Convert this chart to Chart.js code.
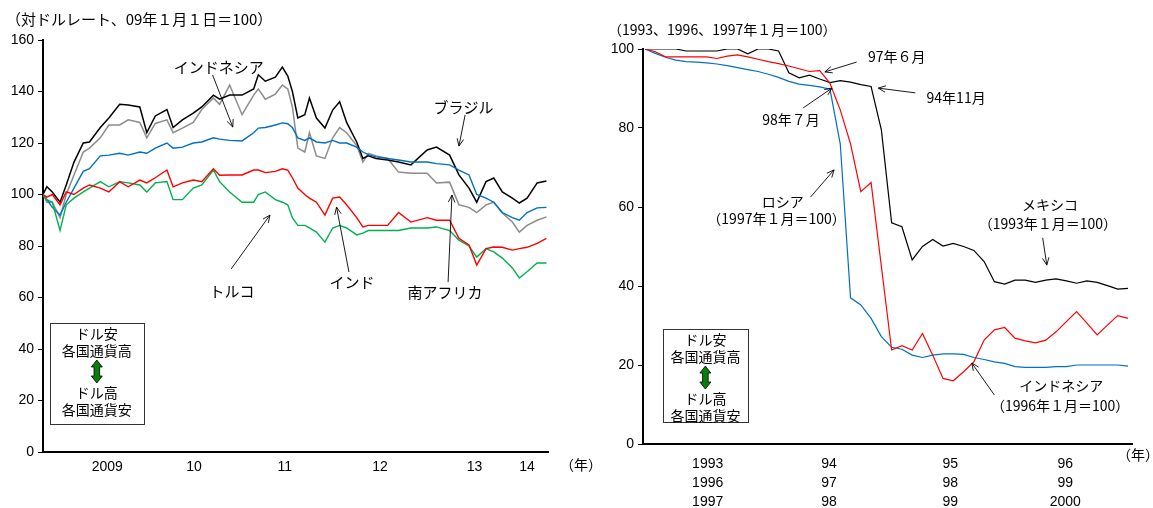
<!DOCTYPE html>
<html>
<head>
<meta charset="utf-8">
<script src="https://cdn.jsdelivr.net/npm/chart.js@4/dist/chart.umd.min.js"></script>
<style>
  body { margin: 0; background: #fff; width: 1153px; height: 508px; overflow: hidden; position: relative; }
  canvas { position: absolute; top: 0; }
  #left-chart { left: 0; }
  #right-chart { left: 600px; }
</style>
</head>
<body>
<canvas id="left-chart" width="600" height="508"></canvas>
<canvas id="right-chart" width="553" height="508"></canvas>
<script>
// --- Left panel: emerging currencies vs USD (2009-01-01 = 100), x = months since Jan 2009 --- //
const emMonths = [0, 0.5, 1.2, 2.2, 3, 4, 5.2, 6, 7.4, 8.5,
  9.9, 11, 12.5, 13.4, 14.5, 16, 16.8, 18, 19.4, 20.5,
  22, 22.8, 24.1, 25.7, 27.2, 27.8, 28.7, 30, 30.9, 31.6,
  32.2, 32.9, 33.8, 34.4, 35.3, 36.4, 37.4, 38.3, 39.2, 40.5,
  41.3, 42, 43, 44.5, 45.9, 47.5, 49.6, 50.8, 52.5, 53.7,
  55, 56, 57.2, 58.2, 59.3, 60.6, 61.5, 62.5, 63.8, 65];

const brazil = [100, 103, 101, 97, 103.7, 112.6, 120, 120.4, 126, 129.7,
  135, 134.8, 134, 124, 130.5, 133, 126, 129, 131.6, 134,
  138.6, 137, 138.6, 138.6, 141, 146.5, 144, 145.6, 149.5, 146,
  140, 129.7, 131, 137.5, 129.7, 125.8, 132.8, 136, 128, 120.4,
  114, 115, 114, 113.4, 112.6, 111.5, 117.3, 118.4, 115.3, 107.6,
  102.5, 97, 105, 106.4, 101, 98.6, 96.7, 98.6, 104.5, 105.2];

const southAfrica = [100, 97, 97, 91, 100, 107.6, 116.5, 118, 122, 127,
  127, 129, 128, 122, 127.6, 129, 124, 125.8, 128, 133,
  137.5, 135, 142.5, 131, 138.6, 141, 137, 139, 142.5, 141,
  134, 118, 116.5, 124, 115, 114, 122, 126, 124, 119,
  112.6, 116, 115, 114, 108.7, 108.3, 108.3, 104.5, 104.8, 96,
  95, 93, 96, 97, 92.8, 89.3, 85.4, 88, 90, 91.3];

const indonesia = [100, 98, 95, 92, 97, 102.5, 109, 110, 115, 115.3,
  116, 115.3, 116.5, 116, 118, 120, 118, 118.4, 120, 120.4,
  122, 121.5, 121, 120.8, 124, 125.8, 126, 127, 127.8, 127.5,
  126, 122, 121, 122, 120.4, 120, 121, 120, 120, 118.4,
  116.5, 115.5, 114.6, 114, 113.4, 112.6, 112.6, 112, 111.5, 109.5,
  107.6, 100, 98.6, 97, 93, 91, 90, 93, 94.8, 95];

const india = [100, 99, 100, 96, 101, 100, 102.5, 103.7, 102.5, 101,
  105, 103, 105.6, 104.5, 106.5, 109.5, 103, 104.5, 105.6, 105,
  110, 107.5, 107.6, 107.6, 109.5, 109.5, 108.5, 109, 110, 109.5,
  106.5, 102.5, 100, 98.6, 97, 92, 98.6, 99, 96, 91,
  87.4, 88, 88, 88, 93, 89.3, 91, 90, 90, 83,
  80.4, 72.6, 79, 79.6, 79.5, 78.4, 79, 79.5, 81, 83];

const turkey = [100, 98, 97, 86, 96, 98.6, 101, 102.5, 105, 103,
  105, 104.5, 103.7, 101, 104.5, 105, 98, 98, 102.5, 103.7,
  109.5, 105, 101, 97, 97, 100, 101, 98, 97, 96,
  91, 88, 88, 87, 85.4, 81.5, 87, 88, 87, 84.3,
  85, 86, 86, 86, 86, 87, 87, 87.4, 86, 82.3,
  80, 75.7, 79, 77.7, 75.3, 71.5, 67.6, 70, 73.4, 73.4];

const leftTickPos = [8.3, 19.5, 31.2, 43.5, 55.7, 62.5];
const leftTickLabels = ['2009', '10', '11', '12', '13', '14'];

// --- Right panel: past crises, monthly, 48 months from base month --- //
const mexico = [100, 100, 100, 100, 99.5, 99.5, 99.5, 99.5, 100, 100,
  98.8, 100, 100, 99.5, 94, 92.7, 93.4, 92.4, 91.5, 92,
  91.6, 91, 90.5, 79.5, 56, 55, 46.6, 50, 51.8, 50.1,
  50.8, 50, 49, 46.2, 41.1, 40.5, 41.5, 41.5, 40.9, 41.5,
  41.8, 41.3, 40.7, 41.3, 40.9, 40.1, 39.2, 39.4];

const indonesiaCrisis = [100, 99.3, 98, 98, 98, 98, 98, 97.6, 98.2, 98.5,
  98, 97.4, 96.8, 96.3, 95.7, 95, 94.3, 94.5, 91.3, 84.6,
  76, 63.9, 66.2, 45, 23.8, 24.9, 23.8, 28, 22.5, 16.6,
  16, 18.3, 20.8, 26.3, 28.9, 29.5, 26.8, 26.1, 25.6, 26.3,
  28.4, 31, 33.5, 30.6, 27.6, 30.1, 32.5, 31.8];

const russia = [100, 98.9, 97.9, 97.2, 96.8, 96.7, 96.5, 96.2, 95.8, 95.3,
  94.8, 94.3, 93.6, 92.8, 91.8, 91.1, 90.8, 90.4, 89.8, 76,
  37, 35.2, 31.8, 27.2, 24.5, 24, 22.5, 21.9, 22.5, 22.8,
  22.8, 22.7, 21.9, 21.4, 20.8, 20.4, 19.6, 19.4, 19.4, 19.4,
  19.6, 19.6, 20, 20, 20, 20, 20, 19.7];

const rightTickPos = [6.1, 17.9, 29.7, 40.9];
const rightTickLabels = [['1993', '1996', '1997'], ['94', '97', '98'], ['95', '98', '99'], ['96', '99', '2000']];

// --- Styles --- //
const NUM_FONT = '"Liberation Sans", "Noto Sans CJK JP", sans-serif';
const JP_FONT = '"Noto Sans CJK JP", "Liberation Sans", sans-serif';

function arrow(ctx, x1, y1, x2, y2) {
    ctx.beginPath();
    ctx.moveTo(x1, y1);
    ctx.lineTo(x2, y2);
    ctx.stroke();
    const a = Math.atan2(y2 - y1, x2 - x1), h = 8;
    ctx.beginPath();
    ctx.moveTo(x2 - h * Math.cos(a - 0.42), y2 - h * Math.sin(a - 0.42));
    ctx.lineTo(x2, y2);
    ctx.lineTo(x2 - h * Math.cos(a + 0.42), y2 - h * Math.sin(a + 0.42));
    ctx.stroke();
}

function doubleArrow(ctx, cx, top, bottom) {
    const hw = 5.5, sw = 2.8, hl = 7;
    ctx.beginPath();
    ctx.moveTo(cx, top);
    ctx.lineTo(cx + hw, top + hl);
    ctx.lineTo(cx + sw, top + hl);
    ctx.lineTo(cx + sw, bottom - hl);
    ctx.lineTo(cx + hw, bottom - hl);
    ctx.lineTo(cx, bottom);
    ctx.lineTo(cx - hw, bottom - hl);
    ctx.lineTo(cx - sw, bottom - hl);
    ctx.lineTo(cx - sw, top + hl);
    ctx.lineTo(cx - hw, top + hl);
    ctx.closePath();
    ctx.fillStyle = '#0b7d0b';
    ctx.fill();
    ctx.lineWidth = 0.8;
    ctx.strokeStyle = '#000';
    ctx.stroke();
}

// draws titles, notes, arrows and the legend box
function overlay(cfg) {
    return {
        id: 'overlay',
        afterDraw(chart) {
            const { ctx, scales: { x, y } } = chart;
            const px = v => x.getPixelForValue(v);
            const py = v => y.getPixelForValue(v);
            ctx.save();
            ctx.fillStyle = '#000';
            ctx.textBaseline = 'middle';

            ctx.font = cfg.titleFont;
            ctx.textAlign = 'left';
            ctx.fillText(cfg.title, cfg.titlePos[0], cfg.titlePos[1]);
            ctx.font = '14px ' + JP_FONT;
            ctx.textAlign = 'center';
            ctx.fillText('（年）', cfg.yearPos[0], cfg.yearPos[1]);

            ctx.font = cfg.noteFont;
            cfg.notes.forEach(n => {
                ctx.textAlign = n.align || 'center';
                ctx.fillText(n.text, px(n.x), py(n.y));
            });

            ctx.strokeStyle = '#000';
            ctx.lineWidth = 0.9;
            cfg.arrows.forEach(a => arrow(ctx, px(a[0][0]), py(a[0][1]), px(a[1][0]), py(a[1][1])));

            // legend box
            const b = cfg.box;
            const bx0 = px(b.x0), bx1 = px(b.x1), by0 = py(b.y0), by1 = py(b.y1);
            ctx.fillStyle = '#fff';
            ctx.fillRect(bx0, by0, bx1 - bx0, by1 - by0);
            ctx.lineWidth = 1;
            ctx.strokeStyle = '#333';
            ctx.strokeRect(Math.round(bx0) + 0.5, Math.round(by0) + 0.5, Math.round(bx1 - bx0), Math.round(by1 - by0));
            const cx = (bx0 + bx1) / 2;
            ctx.fillStyle = '#000';
            ctx.font = '14px ' + JP_FONT;
            ctx.textAlign = 'center';
            ctx.fillText('ドル安', cx, by0 + 11);
            ctx.fillText('各国通貨高', cx, by0 + 28);
            ctx.fillText('ドル高', cx, by0 + 70);
            ctx.fillText('各国通貨安', cx, by0 + 87);
            doubleArrow(ctx, cx, by0 + 37, by0 + 60);
            ctx.restore();
        }
    };
}

function baseScales(xMin, xMax, yMax, ticksPos, ticksLabels, xHeight, tickPad) {
    return {
        x: {
            type: 'linear',
            min: xMin,
            max: xMax,
            afterBuildTicks: s => { s.ticks = ticksPos.map(v => ({ value: v })); },
            afterFit: s => { s.height = xHeight; },
            ticks: {
                autoSkip: false,
                maxRotation: 0,
                padding: tickPad,
                color: '#000',
                font: { family: NUM_FONT, size: 14, lineHeight: 1.35 },
                callback: (v, i) => ticksLabels[i]
            },
            grid: { display: false },
            border: { color: '#000', width: 2 }
        },
        y: {
            min: 0,
            max: yMax,
            afterFit: s => { s.width = 43; },
            ticks: {
                stepSize: 20,
                padding: 4,
                color: '#000',
                font: { family: NUM_FONT, size: 14 }
            },
            grid: { drawOnChartArea: false, tickLength: 5, color: '#000', lineWidth: 1 },
            border: { color: '#000', width: 2 }
        }
    };
}

function lineSet(xs, ys, color, width) {
    return {
        data: ys.map((v, i) => ({ x: xs[i], y: v })),
        borderColor: color,
        borderWidth: width,
        pointRadius: 0,
        tension: 0,
        fill: false
    };
}

// --- Left chart --- //
new Chart(document.getElementById('left-chart'), {
    type: 'line',
    data: {
        datasets: [
            lineSet(emMonths, india, '#ff0000', 1.4),
            lineSet(emMonths, turkey, '#00b050', 1.4),
            lineSet(emMonths, indonesia, '#0070c0', 1.4),
            lineSet(emMonths, brazil, '#000000', 1.5),
            lineSet(emMonths, southAfrica, '#8c8c8c', 1.5)
        ]
    },
    options: {
        responsive: false,
        animation: false,
        layout: { padding: { top: 40, right: 52, bottom: 0, left: 0 } },
        scales: baseScales(0, 65.2, 160, leftTickPos, leftTickLabels, 56, -2),
        plugins: { legend: { display: false }, tooltip: { enabled: false } }
    },
    plugins: [overlay({
        title: '（対ドルレート、09年１月１日＝100）',
        titleFont: '15px ' + JP_FONT,
        titlePos: [6, 19],
        yearPos: [581, 465],
        noteFont: '15px ' + JP_FONT,
        notes: [
            { text: 'インドネシア', x: 22.7, y: 149.5 },
            { text: 'ブラジル', x: 54.3, y: 134 },
            { text: 'トルコ', x: 24.4, y: 62.5 },
            { text: 'インド', x: 39.9, y: 66 },
            { text: '南アフリカ', x: 51.9, y: 62.1 }
        ],
        arrows: [
            [[21.9, 146.4], [24.5, 126.2]],
            [[54.5, 130.9], [53.7, 118.8]],
            [[24.3, 71.1], [29.3, 92]],
            [[39.5, 69.9], [37.9, 95.1]],
            [[52.3, 66], [52.8, 99.8]]
        ],
        box: { x0: 0.9, y0: 50.1, x1: 13, y1: 10.9 }
    })]
});

// --- Right chart --- //
const monthIdx = mexico.map((v, i) => i);
new Chart(document.getElementById('right-chart'), {
    type: 'line',
    data: {
        datasets: [
            lineSet(monthIdx, indonesiaCrisis, '#ff0000', 1.2),
            lineSet(monthIdx, russia, '#0070c0', 1.2),
            lineSet(monthIdx, mexico, '#000000', 1.2)
        ]
    },
    options: {
        responsive: false,
        animation: false,
        layout: { padding: { top: 49, right: 21, bottom: 0, left: 0 } },
        scales: baseScales(-0.195, 47.39, 100, rightTickPos, rightTickLabels, 64, 3),
        plugins: { legend: { display: false }, tooltip: { enabled: false } }
    },
    plugins: [overlay({
        title: '（1993、1996、1997年１月＝100）',
        titleFont: '14px ' + JP_FONT,
        titlePos: [8, 30],
        yearPos: [538, 455],
        noteFont: '14px ' + JP_FONT,
        notes: [
            { text: '97年６月', x: 21.7, y: 98, align: 'left' },
            { text: '94年11月', x: 27.4, y: 87.8, align: 'left' },
            { text: '98年７月', x: 11.4, y: 82, align: 'left' },
            { text: 'ロシア', x: 13.4, y: 61.3 },
            { text: '（1997年１月＝100）', x: 12.8, y: 57 },
            { text: 'メキシコ', x: 39.4, y: 60.5 },
            { text: '（1993年１月＝100）', x: 39.2, y: 55.7 },
            { text: 'インドネシア', x: 40.5, y: 14.7 },
            { text: '（1996年１月＝100）', x: 40.4, y: 9.6 }
        ],
        arrows: [
            [[20.6, 96.7], [17.5, 94.2]],
            [[26.3, 88.9], [22.7, 90.1]],
            [[15.4, 85.1], [18.2, 90.1]],
            [[16.1, 62.5], [18.4, 69.4]],
            [[38.7, 52.2], [39.1, 45.3]],
            [[34.0, 12.4], [31.8, 20.5]]
        ],
        box: { x0: 1.75, y0: 29.1, x1: 10.0, y1: 5.6 }
    })]
});
</script>
</body>
</html>
